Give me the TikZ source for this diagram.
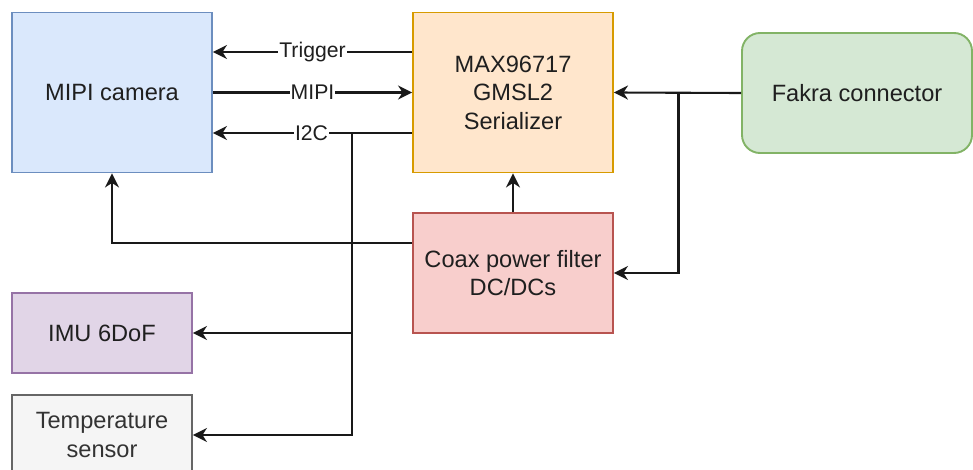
\documentclass[tikz,border=0pt]{standalone}
\usepackage{fontspec}
\setmainfont{Liberation Sans}
\usetikzlibrary{arrows.meta,calc}
\definecolor{camF}{HTML}{DAE8FC}\definecolor{camD}{HTML}{6C8EBF}
\definecolor{maxF}{HTML}{FFE6CC}\definecolor{maxD}{HTML}{D79B00}
\definecolor{fakF}{HTML}{D5E8D4}\definecolor{fakD}{HTML}{82B366}
\definecolor{coxF}{HTML}{F8CECC}\definecolor{coxD}{HTML}{B85450}
\definecolor{imuF}{HTML}{E1D5E7}\definecolor{imuD}{HTML}{9673A6}
\definecolor{tmpF}{HTML}{F5F5F5}\definecolor{tmpD}{HTML}{666666}
\definecolor{txtG}{HTML}{333333}
\tikzset{
  blockbox/.style={draw, line width=1.9pt, inner sep=0pt, align=center,
    font=\fontsize{23.6pt}{28.5pt}\selectfont, text=black!88},
  conn/.style={line width=2.1pt, draw=black!90,
    -{Stealth[length=14pt,width=14pt,inset=4.5pt]}},
  elabel/.style={fill=white, inner sep=1pt, font=\fontsize{21.2pt}{25pt}\selectfont, text=black!88}
}
\begin{document}
\begin{tikzpicture}[x=1pt,y=-1pt]
\useasboundingbox (0,0) rectangle (973,470);
\node[blockbox, fill=camF, draw=camD, minimum width=200pt, minimum height=160pt] (cam) at (112,92.5) {MIPI camera};
\node[blockbox, fill=maxF, draw=maxD, minimum width=200pt, minimum height=160pt] (max) at (513,92.5) {MAX96717\\GMSL2\\Serializer};
\node[blockbox, fill=fakF, draw=fakD, minimum width=230pt, minimum height=120pt, rounded corners=18pt] (fak) at (857,93) {Fakra connector};
\node[blockbox, fill=coxF, draw=coxD, minimum width=200pt, minimum height=120pt] (cox) at (513,273) {Coax power filter\\DC/DCs};
\node[blockbox, fill=imuF, draw=imuD, minimum width=180pt, minimum height=80pt] (imu) at (102,333) {IMU 6DoF};
\node[blockbox, fill=tmpF, draw=tmpD, text=txtG, minimum width=180pt, minimum height=80pt] (tmp) at (102,435) {Temperature\\sensor};
\coordinate (yT) at (0,52);
\coordinate (yI) at (0,133);
\coordinate (yP) at (0,243);
\coordinate (j1) at (352,133);
\coordinate (j2) at (678.5,93);
\draw[conn] (max.west |- yT) -- node[elabel] {Trigger} (cam.east |- yT);
\draw[conn] (cam.east) -- node[elabel] {MIPI} (max.west);
\draw[conn] (max.west |- yI) -- node[elabel, pos=0.505] {I2C} (cam.east |- yI);
\draw[conn] (j1) |- (imu.east);
\draw[conn] (j1) |- (tmp.east);
\draw[conn] (fak.west) -- (max.east);
\draw[conn] (j2) |- (cox.east);
\draw[conn] (cox.north) -- (max.south);
\draw[conn] (cox.west |- yP) -| (cam.south);
\end{tikzpicture}
\end{document}
